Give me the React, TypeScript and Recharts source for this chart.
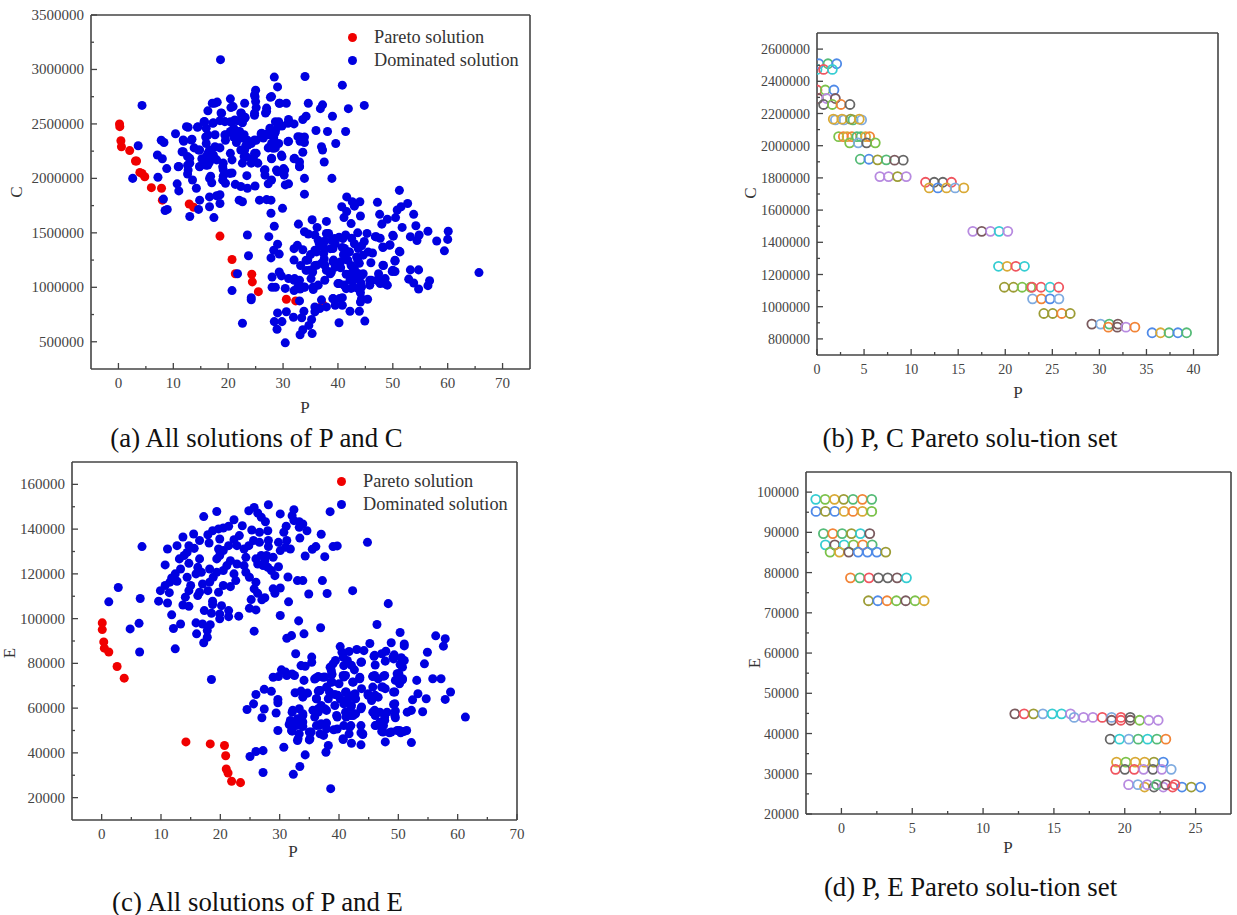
import { ScatterChart, Scatter, XAxis, YAxis, ZAxis, Legend, Cell } from 'recharts';

type Pair = [number, number];

const paretoPC: Pair[] = [
  [0.2, 2500000], [0.25, 2475000], [0.45, 2345000], [0.55, 2290000], [2.05, 2255000], [3.1, 2160000], [3.3, 2160000],
  [3.9, 2055000], [4.3, 2045000], [4.8, 2015000], [6, 1915000], [7.85, 1910000], [8, 1800000], [12.9, 1765000], [13.7, 1735000],
  [18.5, 1470000], [20.7, 1255000], [21.3, 1125000], [24.3, 1120000], [24.4, 1050000], [25.5, 960000], [30.6, 890000],
  [32.3, 875000], [37.2, 845000],
];

const dominatedPC: Pair[] = [
  [18.6, 3090000], [28.4, 2930000], [29, 2840000], [34, 2935000], [40.8, 2856000], [44.8, 2670000], [41.9, 2640000], [37.2, 2675000],
  [36.8, 2640000], [34.6, 2690000], [39, 2570000], [4.3, 2670000], [25, 2810000], [24.9, 2750000], [25, 2705000], [27.7, 2745000],
  [25.1, 2650000], [29.3, 2690000], [30.6, 2690000], [27, 2645000], [26.8, 2600000], [24.8, 2580000], [23, 2690000], [20.4, 2730000],
  [20.5, 2650000], [18, 2700000], [17.1, 2690000], [16.3, 2620000], [18.7, 2600000], [22.3, 2600000], [23.1, 2560000], [15.6, 2520000],
  [17.3, 2510000], [18.5, 2530000], [20.4, 2520000], [21.7, 2530000], [22.6, 2510000], [12.7, 2470000], [14.4, 2470000], [16, 2460000],
  [10.4, 2410000], [19.5, 2400000], [17.6, 2400000], [15.9, 2380000], [21, 2460000], [22, 2430000], [22.9, 2400000], [26, 2410000],
  [27.6, 2460000], [28.6, 2520000], [29.2, 2520000], [31, 2540000], [32, 2500000], [33.6, 2540000], [34.2, 2570000], [29.8, 2480000],
  [28.6, 2430000], [27.3, 2400000], [36, 2440000], [38.1, 2430000], [41.4, 2430000], [33.1, 2380000], [33.9, 2380000], [33.9, 2330000],
  [33.1, 2340000], [31, 2340000], [39.6, 2320000], [37, 2290000], [37.2, 2260000], [33.6, 2240000], [37.5, 2150000], [32, 2180000],
  [33, 2150000], [33, 2110000], [29.8, 2200000], [27.9, 2180000], [28.6, 2280000], [29.2, 2320000], [27.9, 2320000], [27.3, 2280000],
  [33.9, 2000000], [38.9, 2000000], [33.9, 1855000], [7.8, 2350000], [8.3, 2330000], [3.6, 2300000], [7.1, 2215000], [8, 2180000],
  [8.8, 2090000], [7.2, 2010000], [2.6, 2000000], [10.7, 1950000], [11, 1885000], [8.2, 1810000], [11.9, 2340000], [13.4, 2360000],
  [11.6, 2245000], [12.6, 2200000], [13.8, 2280000], [14.6, 2260000], [11, 2110000], [12.6, 2120000], [12.6, 2040000], [13.5, 1985000],
  [14.2, 1910000], [14.8, 2110000], [16, 2120000], [16.8, 2020000], [17, 1960000], [19.5, 1955000], [19.1, 2020000], [19.1, 2080000],
  [20.7, 2050000], [23.4, 2025000], [21.3, 1945000], [22.3, 1925000], [23.5, 1910000], [24.9, 1930000], [27.3, 1950000], [27.9, 1985000],
  [30.4, 1940000], [31, 1950000], [26.7, 2080000], [26.7, 2030000], [29, 2060000], [30.1, 2090000], [30.2, 2030000], [16.6, 1830000],
  [17.9, 1840000], [18.5, 1850000], [14.8, 1800000], [18.5, 1770000], [16.6, 1740000], [14.6, 1715000], [22, 1800000], [22.6, 1785000],
  [25.7, 1800000], [27, 1805000], [27.8, 1800000], [29.9, 1725000], [27.8, 1680000], [13, 1650000], [17.4, 1640000], [8.5, 1705000],
  [8.9, 1715000], [16, 2320000], [16.6, 2260000], [17.6, 2290000], [18.5, 2280000], [16, 2200000], [17.3, 2215000], [17.9, 2170000],
  [16.6, 2150000], [19.1, 2140000], [20.7, 2170000], [20.4, 2230000], [22.3, 2260000], [22.9, 2200000], [22.6, 2140000], [24.2, 2140000],
  [25.4, 2140000], [25.1, 2230000], [24.2, 2320000], [25.1, 2350000], [23.5, 2350000], [22.3, 2370000], [21, 2380000], [20.4, 2430000],
  [19.5, 2350000], [24.6, 2190000], [23.2, 2300000], [21.5, 2330000], [26.4, 2370000], [28.3, 2370000], [13, 2140000], [15.2, 2180000],
  [17.5, 2690000], [20.9, 2659000], [24.8, 2766000], [24.8, 2598000], [22.4, 2598000], [18.8, 2598000], [27, 2613000], [29.4, 2690000],
  [27.9, 2751000], [17.2, 2506000], [15.7, 2521000], [19.4, 2521000], [21.2, 2536000], [23, 2552000], [20.6, 2429000], [22.1, 2429000],
  [19.4, 2398000], [23.3, 2352000], [24.8, 2352000], [21.5, 2368000], [16.3, 2398000], [13.3, 2352000], [11.8, 2352000], [12.4, 2475000],
  [14.5, 2475000], [16.3, 2230000], [17.5, 2184000], [14.8, 2260000], [11.8, 2245000], [13, 2184000], [10.9, 2107000], [12.7, 2076000],
  [14.8, 2107000], [16.3, 2122000], [19, 2107000], [20.3, 2046000], [19, 1984000], [16.6, 2000000], [23.3, 2199000], [24.8, 2230000],
  [23, 2260000], [23.6, 2306000], [26.6, 2076000], [27.9, 2184000], [28.8, 2076000], [30.3, 2076000], [28.2, 2276000], [27.3, 2414000],
  [29.1, 2475000], [28.5, 2414000], [30.9, 2506000], [32.7, 2383000], [30.9, 2337000], [29.7, 2214000], [32.1, 2184000], [33, 2107000],
  [26.1, 2414000],
  // lower cluster
  [41.6, 1830000], [42.6, 1785000], [44, 1785000], [43, 1745000], [47.2, 1780000], [51.2, 1890000], [52.7, 1770000], [51.5, 1740000],
  [50.8, 1710000], [40.7, 1740000], [41.6, 1695000], [44.1, 1655000], [47.6, 1670000], [53.8, 1670000], [50.5, 1640000], [49, 1625000],
  [41.1, 1640000], [35.3, 1620000], [37.9, 1605000], [42.4, 1585000], [48, 1580000], [51.7, 1550000], [54.2, 1565000], [36.2, 1550000],
  [32.8, 1580000], [33.9, 1510000], [34.6, 1490000], [35.8, 1480000], [38.3, 1495000], [38.9, 1430000], [37.6, 1425000], [40.2, 1460000],
  [41.4, 1480000], [43.6, 1500000], [45.3, 1495000], [46.8, 1465000], [47.7, 1450000], [50.1, 1470000], [53.2, 1465000], [54.8, 1480000],
  [54.4, 1430000], [56.4, 1515000], [58, 1425000], [60.1, 1515000], [60, 1440000], [59.4, 1335000], [65.7, 1135000], [49.5, 1390000],
  [48.2, 1365000], [51.2, 1330000], [46.3, 1315000], [44.3, 1380000], [43, 1400000], [42, 1325000], [40.8, 1365000], [38.6, 1355000],
  [37.4, 1310000], [36.1, 1325000], [33.6, 1345000], [32.6, 1385000], [32, 1355000], [29, 1395000], [28.3, 1340000], [29.3, 1305000],
  [27.8, 1270000], [27.4, 1465000], [28.4, 1560000], [23.5, 1480000], [23.7, 1290000], [21.7, 1125000], [20.7, 970000], [22.6, 670000],
  [24.2, 905000], [24.2, 885000], [32, 1250000], [33.2, 1200000], [34.5, 1250000], [35.8, 1200000], [34.2, 1155000], [35.4, 1140000],
  [35.1, 1080000], [36.4, 1020000], [35.5, 980000], [33.1, 985000], [32, 970000], [30.4, 990000], [28.6, 1000000], [28, 1000000],
  [28, 1095000], [29.3, 1140000], [29.7, 1105000], [31, 1080000], [32, 1065000], [33, 1065000], [33.9, 1000000], [37.6, 1065000],
  [37.9, 1155000], [37, 1220000], [38.6, 1125000], [39.5, 1185000], [40.5, 1235000], [39.2, 1250000], [42.4, 1125000], [43, 1170000],
  [42.4, 1200000], [43.6, 1250000], [44.6, 1295000], [43.9, 1220000], [46, 1225000], [44.6, 1125000], [43.3, 1095000], [42.2, 1065000],
  [41.1, 1020000], [40.2, 1035000], [42.4, 990000], [43.6, 990000], [45.8, 1065000], [45.8, 1020000], [47.4, 1125000], [47.1, 1065000],
  [48.3, 1200000], [47.7, 1035000], [49, 1020000], [48.6, 1080000], [49.9, 1145000], [50.4, 1240000], [50.4, 1145000], [53.2, 1160000],
  [54.7, 1160000], [52.9, 1075000], [53.8, 1040000], [54.7, 985000], [56.7, 1060000], [56.4, 1015000], [44.1, 950000], [45.4, 890000],
  [44.1, 865000], [40.8, 905000], [39.1, 895000], [39.5, 835000], [40.8, 835000], [37.9, 820000], [37, 885000], [36.7, 805000],
  [35.8, 820000], [35.8, 775000], [33, 875000], [42.2, 780000], [43.9, 780000], [44.9, 690000], [40.2, 675000], [33.8, 780000],
  [33.4, 720000], [31.9, 725000], [30.6, 775000], [29, 765000], [28.4, 685000], [29.8, 685000], [28.9, 615000], [35.2, 705000],
  [34.7, 650000], [33.6, 610000], [33.1, 565000], [35.3, 575000], [30.4, 490000], [41, 1300000], [39.5, 1400000], [42.5, 1450000],
  [44.8, 1420000], [36.6, 1400000], [35, 1300000], [37.5, 1260000], [41.5, 1120000], [44.2, 1040000], [40.5, 1180000],
  [37.9, 1494000], [39.4, 1448000], [40.9, 1448000], [36.4, 1432000], [37.3, 1371000], [39.1, 1356000], [41.2, 1356000], [42.1, 1325000],
  [43.7, 1356000], [45.5, 1325000], [43.4, 1279000], [41.8, 1248000], [42.8, 1156000], [43.7, 1126000], [44.3, 1110000], [42.8, 1064000],
  [39.1, 1233000], [37.6, 1202000], [35.8, 1340000], [34.2, 1248000], [34.8, 1156000], [36.1, 1202000], [38.8, 1141000], [46.1, 1064000],
  [47.3, 1064000], [48.5, 1034000], [44.3, 1003000], [42.8, 1003000], [41.5, 988000], [40, 1034000], [35.5, 1003000], [33.9, 1003000],
  [32.1, 1080000], [32.7, 1003000], [39.1, 896000], [40.3, 896000], [44.3, 896000], [48.2, 1202000], [50, 1156000], [50.4, 1248000],
  [51.3, 1325000], [48.2, 1371000], [49.4, 1386000], [47, 1463000], [50, 1478000],
];

const paretoPE: Pair[] = [
  [0.1, 98100], [0.1, 95100], [0.35, 89600], [0.45, 86800], [1.2, 85100], [2.6, 78600], [3.8, 73400],
  [14.2, 44900], [18.3, 44000], [20.7, 43300], [20.9, 38700], [21, 32800], [21.3, 31000], [21.9, 27300], [23.4, 26700],
];

const dominatedPE: Pair[] = [
  [28.1, 150900], [25.7, 149700], [24.8, 148200], [19.4, 147900], [17.2, 145600], [26.3, 147200], [26.9, 145300], [27.6, 143300],
  [30.1, 146800], [32.4, 148700], [32.1, 146000], [32.4, 143800], [33.3, 143300], [33.9, 142300], [33.3, 140800], [34.6, 139300],
  [38.5, 147800], [37, 137700], [33.4, 136000], [44.8, 134100], [36.1, 132200], [35.5, 131000], [39, 132200], [39.7, 132500],
  [37.6, 127700], [34.3, 128000], [22.3, 144200], [23.7, 141500], [21.4, 141300], [20.5, 140500], [19.7, 140100], [18.7, 139300],
  [17.9, 137500], [18.1, 133800], [19.9, 135600], [16.5, 134900], [15.5, 137800], [13.7, 136500], [12.7, 132600], [11.1, 131100],
  [6.8, 132200], [14.7, 132600], [15.6, 131400], [14.4, 129600], [13.1, 126700], [13.9, 128200], [16.5, 126700], [14.7, 124700],
  [10.7, 124000], [13.3, 122200], [12.4, 120000], [11.8, 118200], [11.5, 116300], [12.7, 116700], [16.2, 122900], [15.9, 120000],
  [16.8, 120700], [18.2, 122200], [19.4, 120700], [18.8, 118500], [18.2, 116300], [17, 115500], [14.4, 118500], [15, 114800],
  [14.7, 112500], [16.5, 111800], [16.2, 110300], [17.9, 112500], [19.7, 111800], [20.5, 114800], [21.7, 114300], [22.6, 117000],
  [22.3, 120000], [20.5, 121500], [21.1, 123700], [21.7, 125900], [22.8, 124400], [24, 123700], [24.3, 120700], [24.9, 118500],
  [26, 116300], [25.7, 113300], [26.3, 111300], [27.5, 109300], [27, 108400], [25.2, 108500], [31.4, 118600], [33, 117000],
  [33.9, 117000], [37.2, 117000], [38, 111200], [34.9, 111000], [42.3, 112500], [28.9, 113300], [30.1, 113700], [29.2, 111300],
  [29.2, 119200], [28.6, 121500], [29.8, 123200], [28.9, 127400], [27.8, 128200], [26.9, 128200], [26, 126700], [26.3, 124400],
  [27.2, 123700], [28, 122900], [27.5, 125900], [24.3, 127400], [24, 131100], [24.8, 132600], [25.6, 134900], [26.6, 134100],
  [28.1, 134900], [28.1, 132200], [29.8, 134100], [30.1, 130400], [31, 131900], [31.8, 131100], [31.2, 134900], [30.7, 138600],
  [31.1, 141300], [28, 139300], [26.6, 138600], [25.3, 139600], [23.2, 137100], [22.3, 135300], [22.8, 132600], [21.4, 132600],
  [20.5, 130400], [19.7, 131100], [19.4, 126700], [19.9, 128200], [9.9, 112500], [10.7, 114800], [11.4, 111600], [2.8, 113900],
  [1.2, 107500], [6.5, 109000], [9.6, 107800], [11.1, 107000], [14.1, 109600], [13.7, 106100], [14.7, 105500], [11.8, 101700],
  [13.3, 97600], [12.1, 95600], [12.4, 86500], [4.8, 95400], [6.3, 97900], [6.4, 85100], [15.9, 98100], [16, 93200],
  [17, 97600], [18.3, 97300], [17.8, 94700], [17.8, 91700], [17.2, 89200], [18.7, 107800], [18.7, 106300], [17.3, 103600],
  [18.5, 102400], [20.2, 105800], [19.9, 102100], [21.4, 103600], [19.9, 99900], [21.4, 100900], [23.1, 101100], [24.9, 104600],
  [26, 103900], [25.7, 94400], [31.5, 107500], [30.1, 101400], [33.2, 99000], [34.1, 93200], [36.9, 95900], [48.3, 106700],
  [46.4, 97400], [31.2, 91200], [32, 92400], [32.7, 84300], [33.6, 79000], [34.3, 78700], [35.4, 82800], [35.4, 80500],
  // lower cluster
  [40.2, 87500], [40.5, 85000], [41.7, 85300], [43, 86200], [44.2, 85700], [45.2, 88900], [48.8, 89200], [50.3, 93800],
  [51, 88700], [51, 87800], [47.9, 85400], [47.2, 84300], [45.9, 83200], [49.3, 83800], [50.5, 82500], [51, 81300],
  [46.1, 79300], [47.8, 81000], [49.2, 82000], [54.4, 79800], [54.9, 85000], [56.3, 92300], [57.9, 91000], [57.6, 87700],
  [50.3, 79500], [50.7, 78300], [50.1, 75300], [43.7, 80500], [41.4, 81300], [40.8, 79000], [39.4, 81300], [38.5, 78300],
  [42.6, 77100], [41.1, 74600], [38.8, 75300], [30.3, 77100], [32.1, 75300], [31.2, 74600], [28.9, 73800], [29.8, 74100],
  [34.1, 72400], [35.9, 73000], [36.5, 74100], [37.3, 73800], [43.5, 73800], [45.7, 74100], [47.7, 74600], [46.6, 73100],
  [49.5, 72400], [50.7, 73100], [53.1, 72400], [55.8, 73100], [57.2, 73100], [18.5, 72800], [27.4, 68400], [28.6, 67500],
  [26, 66100], [29.7, 63900], [29.7, 62400], [25.6, 61900], [24.5, 59400], [27.4, 59600], [29.4, 57800], [27, 55700],
  [29.7, 50000], [30.7, 42500], [27.2, 41000], [26, 40600], [25, 38400], [27.2, 31200], [32.3, 30400], [33.4, 33900],
  [34.3, 39100], [38.2, 43300], [37.8, 40300], [38.6, 24000], [40.7, 46000], [42.1, 44300], [43.7, 43600], [47.8, 44900],
  [52.2, 44600], [61.3, 56000], [32.6, 66900], [33.6, 67600], [34.7, 66700], [33.9, 64900], [36.5, 67600], [36.2, 64200],
  [38.2, 64200], [39.3, 66100], [40.2, 64200], [41.1, 67200], [42.3, 65700], [42.8, 64200], [44.9, 65700], [45.5, 63400],
  [46.1, 65700], [49.2, 67200], [53.3, 66400], [52.4, 63700], [54.7, 64200], [57.9, 63900], [58.8, 67200], [54.1, 58400],
  [51.5, 58200], [52.2, 59000], [49.2, 61600], [49.5, 58700], [49.5, 55700], [48.1, 58200], [46.9, 58200], [45.7, 58200],
  [46.1, 56700], [47.7, 54500], [46.9, 53700], [46.1, 52200], [47.5, 52200], [47.2, 49600], [48.5, 49000], [49.8, 50000],
  [51, 49600], [50.4, 49000], [43.7, 59700], [42.8, 57500], [42, 60400], [41.1, 58200], [42, 56700], [40.8, 61900],
  [39.7, 56000], [37.9, 59000], [37, 61200], [35.6, 59000], [36.5, 58200], [35.9, 56000], [33.3, 59700], [33.9, 57500],
  [32.1, 58200], [33, 55200], [31.8, 54500], [31.6, 52700], [32.6, 52200], [33.9, 51800], [32.1, 49700], [33.3, 48500],
  [33, 45500], [35, 49300], [35, 45800], [36.2, 52200], [36.8, 48500], [37.4, 47800], [37, 53000], [37.9, 53300],
  [39.1, 50300], [39.7, 50700], [40.8, 52200], [42, 52200], [41.7, 48500], [43.7, 52200], [43.7, 49000], [44, 48200],
  [31, 76100], [32.5, 74600], [36.2, 73600], [37.6, 73900], [38.8, 75000], [38.8, 71700], [40, 70900], [40.8, 73900],
  [42.3, 71700], [43.5, 73100], [43.8, 68700], [42.7, 66400], [45.7, 74200], [47.5, 74200], [47.2, 69400], [47.8, 68700],
  [49.8, 75400], [50.1, 73100], [50.7, 72700], [36.8, 67900], [37.9, 69400],
  [39, 79800], [40.7, 82800], [42.1, 79100], [43.8, 80600], [46, 83600], [49.1, 82800], [50, 75400], [50.2, 70900],
  [38.7, 76800], [38.7, 71600], [40.7, 74600], [42.4, 71600], [46, 74600], [45.7, 69400], [47.4, 69400], [49.4, 67200],
  [36.7, 67900], [38.4, 67200], [41.2, 67200], [44.9, 66400], [46.6, 64900], [42.6, 65700], [36.2, 64200], [39.8, 65700],
  [36.5, 59700], [37.6, 59700], [39.3, 61200], [41.5, 64200], [42.1, 61200], [43.8, 60500], [42.4, 56700], [41.2, 56000],
  [39.6, 56700], [46, 59000], [47.7, 56000], [49.4, 62000], [49.4, 56700], [32.2, 59000], [32.8, 52300], [33.9, 53800],
  [33.9, 56700], [32, 50000], [33.1, 46300], [35.3, 49300], [36.7, 52300], [37.9, 50800], [41.8, 51500], [44, 48500],
  [46.3, 52300], [47.4, 49300], [48.8, 49300], [50.2, 50000], [51.4, 50000], [40.7, 46300], [35.1, 46300],
];

const bl = '#4f8ae8';
const gn = '#55bb77';
const rd = '#f0555f';
const cy = '#35cdd2';
const lm = '#7cc24a';
const pu = '#b78ae0';
const br = '#7a5a5e';
const gy = '#666666';
const or = '#f28436';
const go = '#d9a935';
const ol = '#9c9c35';
const lb = '#7fabe0';

const ringsPC: Pair[] = [
  [0.2, 2509000], [1.17, 2509000], [2.09, 2509000], [0, 2474000], [0.7, 2474000], [1.63, 2474000],
  [0, 2346000], [0.88, 2346000], [1.8, 2346000], [0.14, 2293000], [1.03, 2293000], [1.95, 2293000],
  [0.7, 2256000], [1.63, 2256000], [2.55, 2256000], [3.5, 2256000],
  [1.95, 2160000], [2.86, 2160000], [3.82, 2160000], [4.74, 2160000], [1.73, 2165000], [2.65, 2165000], [3.57, 2165000], [4.49, 2165000],
  [2.3, 2056000], [2.8, 2056000], [3.2, 2056000], [3.71, 2056000], [4.24, 2056000], [4.67, 2056000], [5.16, 2056000], [5.59, 2056000],
  [3.47, 2018000], [4.38, 2018000], [5.27, 2018000], [6.19, 2018000],
  [4.6, 1916000], [5.52, 1916000], [6.44, 1912000], [7.36, 1912000], [8.24, 1910000], [9.16, 1910000],
  [6.68, 1808000], [7.6, 1808000], [8.56, 1808000], [9.48, 1808000],
  [11.53, 1773000], [12.45, 1773000], [13.37, 1773000], [14.29, 1773000],
  [11.92, 1738000], [12.84, 1738000], [13.76, 1738000], [14.68, 1738000], [15.6, 1738000],
  [16.55, 1468000], [17.5, 1468000], [18.43, 1468000], [19.35, 1468000], [20.27, 1468000],
  [19.28, 1251000], [20.2, 1251000], [21.12, 1251000], [22.04, 1251000],
  [19.9, 1121000], [20.87, 1121000], [21.79, 1121000], [22.7, 1121000], [22.85, 1121000], [23.8, 1121000], [24.76, 1121000], [25.68, 1121000],
  [22.9, 1049000], [23.84, 1049000], [24.76, 1049000], [25.7, 1049000],
  [24.1, 958000], [25.04, 958000], [26, 958000], [26.9, 958000],
  [29.2, 892000], [30.13, 892000], [31.05, 892000], [31.97, 892000],
  [30.95, 873000], [31.9, 873000], [32.82, 873000], [33.77, 873000],
  [35.6, 838000], [36.5, 838000], [37.4, 838000], [38.34, 838000], [39.26, 838000],
];
const ringColorsPC: string[] = [
  bl, gn, bl, cy, rd, cy,
  rd, lm, bl, br, pu, br,
  gy, lm, or, gy,
  lb, lb, gn, lb, go, go, ol, go,
  lm, or, go, or, gn, gn, go, or,
  lm, lb, gy, lm,
  gn, bl, ol, gn, br, gy,
  pu, pu, ol, pu,
  rd, gy, gy, rd,
  go, bl, go, lb, go,
  pu, br, pu, cy, pu,
  cy, go, rd, cy,
  ol, ol, lm, lm, rd, rd, cy, rd,
  lb, or, bl, lb,
  ol, ol, or, ol,
  br, lb, gn, br,
  or, br, pu, or,
  bl, go, gn, bl, gn,
];

const ringsPE: Pair[] = [
  [-1.81, 98200], [-1.15, 98200], [-0.49, 98200], [0.16, 98200], [0.82, 98200], [1.48, 98200], [2.14, 98200],
  [-1.79, 95200], [-1.13, 95200], [-0.47, 95200], [0.19, 95200], [0.82, 95200], [1.48, 95200], [2.14, 95200],
  [-1.27, 89700], [-0.61, 89700], [0.05, 89700], [0.71, 89700], [1.34, 89700], [2, 89700],
  [-1.13, 86900], [-0.47, 86900], [0.19, 86900], [0.85, 86900], [1.51, 86900], [2.17, 86900],
  [-0.8, 85100], [-0.14, 85100], [0.52, 85100], [1.18, 85100], [1.84, 85100], [2.5, 85100], [3.13, 85100],
  [0.64, 78700], [1.3, 78700], [1.95, 78700], [2.61, 78700], [3.27, 78700], [3.93, 78700], [4.59, 78700],
  [1.91, 73000], [2.57, 73000], [3.22, 73000], [3.88, 73000], [4.54, 73000], [5.2, 73000], [5.84, 73000],
  [12.24, 44900], [12.9, 44900], [13.56, 44900], [14.22, 44900], [14.88, 44900], [15.54, 44900], [16.17, 44900],
  [16.43, 44000], [17.09, 44000], [17.75, 44000], [18.41, 44000], [19.07, 44000], [19.73, 44000], [20.39, 44000],
  [19.07, 43300], [19.73, 43300], [20.39, 43300], [21.05, 43300], [21.7, 43300], [22.36, 43300],
  [18.97, 38600], [19.63, 38600], [20.29, 38600], [20.95, 38600], [21.61, 38600], [22.27, 38600], [22.9, 38600],
  [19.42, 32900], [20.08, 32900], [20.74, 32900], [21.4, 32900], [22.06, 32900], [22.72, 32900],
  [19.35, 31100], [20.01, 31100], [20.67, 31100], [21.33, 31100], [21.99, 31100], [22.62, 31100], [23.28, 31100],
  [21.4, 26700], [22.06, 26700], [22.72, 26700], [23.38, 26700], [24.04, 26700], [24.7, 26700], [25.35, 26700],
  [20.27, 27300], [20.93, 27300], [21.59, 27300], [22.25, 27300], [22.9, 27300], [23.54, 27300],
];
const ringColorsPE: string[] = [
  cy, lm, go, ol, gn, or, gn,
  bl, ol, bl, go, or, go, lm,
  gn, or, gn, ol, cy, br,
  cy, br, cy, lm, or, gn,
  lm, go, br, bl, bl, bl, ol,
  or, gn, rd, gy, gy, br, cy,
  ol, bl, or, lm, br, lm, go,
  br, rd, ol, lb, cy, cy, pu,
  lb, pu, pu, rd, lb, rd, gy,
  br, rd, br, lm, pu, pu,
  gy, cy, lb, gn, cy, gn, or,
  go, lm, go, go, ol, bl,
  rd, gy, rd, pu, gy, pu, lb,
  go, gy, pu, rd, bl, ol, bl,
  pu, lb, pu, gn, br, rd,
];

const xTicksPC = [0, 5, 10, 15, 20, 25, 30, 35, 40, 45, 50, 55, 60, 65, 70];
const cTicksAll = [500000, 750000, 1000000, 1250000, 1500000, 1750000, 2000000, 2250000, 2500000, 2750000, 3000000, 3250000, 3500000];
const xTicksRingPC = [0, 2.5, 5, 7.5, 10, 12.5, 15, 17.5, 20, 22.5, 25, 27.5, 30, 32.5, 35, 37.5, 40];
const cTicksRing = [800000, 900000, 1000000, 1100000, 1200000, 1300000, 1400000, 1500000, 1600000, 1700000, 1800000, 1900000, 2000000, 2100000, 2200000, 2300000, 2400000, 2500000, 2600000];
const xTicksPE = [0, 5, 10, 15, 20, 25, 30, 35, 40, 45, 50, 55, 60, 65, 70];
const eTicksAll = [20000, 30000, 40000, 50000, 60000, 70000, 80000, 90000, 100000, 110000, 120000, 130000, 140000, 150000, 160000];
const xTicksRingPE = [0, 2.5, 5, 7.5, 10, 12.5, 15, 17.5, 20, 22.5, 25];
const eTicksRing = [20000, 25000, 30000, 35000, 40000, 45000, 50000, 55000, 60000, 65000, 70000, 75000, 80000, 85000, 90000, 95000, 100000];

const INK = '#444444';
const SERIF = '"Liberation Serif", serif';

type Side = 'left' | 'right' | 'top' | 'bottom';

// ticks point into the plot, so they are drawn by hand from the axis position
const makeTick = (side: Side, majorStep: number, fontSize: number) => (props: any) => {
  const { x, y, payload } = props;
  const major = payload.value % majorStep === 0;
  const len = major ? 6 : 3;
  const dx = side === 'left' ? len : side === 'right' ? -len : 0;
  const dy = side === 'top' ? len : side === 'bottom' ? -len : 0;
  return (
    <g>
      <line x1={x} y1={y} x2={x + dx} y2={y + dy} stroke={INK} strokeWidth={1.3} />
      {major && side === 'bottom' && (
        <text x={x} y={y + 19} textAnchor="middle" fontSize={fontSize} fontFamily={SERIF} fill={INK}>{payload.value}</text>
      )}
      {major && side === 'left' && (
        <text x={x - 7} y={y + 5} textAnchor="end" fontSize={fontSize} fontFamily={SERIF} fill={INK}>{payload.value}</text>
      )}
    </g>
  );
};

const legendContent = (fontSize: number) => (props: any) => (
  <div style={{ fontFamily: SERIF, fontSize, color: '#333', lineHeight: '23px', whiteSpace: 'nowrap' }}>
    {props.payload.map((entry: any) => (
      <div key={entry.value} style={{ display: 'flex', alignItems: 'center' }}>
        <span style={{ display: 'inline-block', width: 9, height: 9, borderRadius: '50%', background: entry.color, marginRight: 17 }} />
        {entry.value}
      </div>
    ))}
  </div>
);

type FrameProps = {
  left: number;
  top: number;
  width: number;
  height: number;
  margin: { left: number; top: number; right: number; bottom: number };
  xDomain: [number, number];
  yDomain: [number, number];
  xTicks: number[];
  yTicks: number[];
  xMajor: number;
  yMajor: number;
  fontSize: number;
  yKey: string;
  children: any;
  clip?: boolean;
};

function Frame(p: FrameProps) {
  const line = { stroke: INK, strokeWidth: 1.6 };
  return (
    <div style={{ position: 'absolute', left: p.left, top: p.top }}>
      <ScatterChart width={p.width} height={p.height} margin={p.margin}>
        <XAxis xAxisId={0} type="number" dataKey="P" orientation="bottom" domain={p.xDomain} ticks={p.xTicks} interval={0} height={1} mirror allowDataOverflow={p.clip}
          axisLine={line} tickLine={false} tickSize={0} tickMargin={0} tick={makeTick('bottom', p.xMajor, p.fontSize)} />
        <XAxis xAxisId="top" type="number" orientation="top" domain={p.xDomain} ticks={p.xTicks} interval={0} height={1} mirror
          axisLine={line} tickLine={false} tickSize={0} tickMargin={0} tick={makeTick('top', p.xMajor, p.fontSize)} />
        <YAxis yAxisId={0} type="number" dataKey={p.yKey} orientation="left" domain={p.yDomain} ticks={p.yTicks} interval={0} width={1} mirror
          axisLine={line} tickLine={false} tickSize={0} tickMargin={0} tick={makeTick('left', p.yMajor, p.fontSize)} />
        <YAxis yAxisId="right" type="number" orientation="right" domain={p.yDomain} ticks={p.yTicks} interval={0} width={1} mirror
          axisLine={line} tickLine={false} tickSize={0} tickMargin={0} tick={makeTick('right', p.yMajor, p.fontSize)} />
        {p.children}
      </ScatterChart>
    </div>
  );
}

const Caption = ({ x, y, text, size = 26.8 }: { x: number; y: number; text: string; size?: number }) => (
  <div style={{ position: 'absolute', left: x, top: y, transform: 'translate(-50%, -50%)', fontFamily: SERIF, fontSize: size, color: '#111', whiteSpace: 'nowrap' }}>{text}</div>
);

const AxisTitle = ({ x, y, text, rotate }: { x: number; y: number; text: string; rotate?: boolean }) => (
  <div style={{ position: 'absolute', left: x, top: y, transform: `translate(-50%, -50%)${rotate ? ' rotate(-90deg)' : ''}`, fontFamily: SERIF, fontSize: 17, color: '#333' }}>{text}</div>
);

const rows = (pairs: Pair[], yKey: string) => pairs.map(([P, v]) => ({ P, [yKey]: v }));

export default function App() {
  return (
    <div style={{ position: 'absolute', left: 0, top: 0, width: 1237, height: 915, background: '#fff', overflow: 'hidden' }}>
      {/* (a) */}
      <Frame left={0} top={0} width={540} height={420} margin={{ left: 91, top: 15, right: 10, bottom: 51 }}
        xDomain={[-5, 75]} yDomain={[250000, 3500000]} xTicks={xTicksPC} yTicks={cTicksAll} xMajor={10} yMajor={500000} fontSize={15} yKey="C">
        <ZAxis range={[62, 62]} />
        <Scatter name="Pareto solution" data={rows(paretoPC, 'C')} fill="#f00000" isAnimationActive={false} />
        <Scatter name="Dominated solution" data={rows(dominatedPC, 'C')} fill="#0000e0" isAnimationActive={false} />
        <Legend layout="vertical" align="center" verticalAlign="middle" itemSorter={null} wrapperStyle={{ left: 348, top: 26, width: 180, bottom: 'auto' }} content={legendContent(18.3)} />
      </Frame>
      {/* (b) */}
      <Frame left={740} top={0} width={490} height={420} margin={{ left: 77, top: 33, right: 12, bottom: 65 }}
        xDomain={[0, 42.6]} yDomain={[700000, 2700000]} xTicks={xTicksRingPC} yTicks={cTicksRing} xMajor={5} yMajor={200000} fontSize={14} yKey="C" clip>
        <ZAxis range={[30, 30]} />
        <Scatter data={rows(ringsPC, 'C')} fill="none" strokeWidth={1.8} isAnimationActive={false}>
          {ringsPC.map((_, i) => <Cell key={i} fill="none" stroke={ringColorsPC[i]} />)}
        </Scatter>
      </Frame>
      {/* (c) */}
      <Frame left={0} top={450} width={530} height={420} margin={{ left: 72, top: 12, right: 13, bottom: 50 }}
        xDomain={[-5, 70]} yDomain={[10000, 170000]} xTicks={xTicksPE} yTicks={eTicksAll} xMajor={10} yMajor={20000} fontSize={15} yKey="E">
        <ZAxis range={[62, 62]} />
        <Scatter name="Pareto solution" data={rows(paretoPE, 'E')} fill="#f00000" isAnimationActive={false} />
        <Scatter name="Dominated solution" data={rows(dominatedPE, 'E')} fill="#0000e0" isAnimationActive={false} />
        <Legend layout="vertical" align="center" verticalAlign="middle" itemSorter={null} wrapperStyle={{ left: 337, top: 20, width: 180, bottom: 'auto' }} content={legendContent(18.3)} />
      </Frame>
      {/* (d) */}
      <Frame left={740} top={450} width={497} height={420} margin={{ left: 66, top: 22, right: 6, bottom: 56 }}
        xDomain={[-2.5, 27.5]} yDomain={[20000, 105000]} xTicks={xTicksRingPE} yTicks={eTicksRing} xMajor={5} yMajor={10000} fontSize={14} yKey="E">
        <ZAxis range={[30, 30]} />
        <Scatter data={rows(ringsPE, 'E')} fill="none" strokeWidth={1.8} isAnimationActive={false}>
          {ringsPE.map((_, i) => <Cell key={i} fill="none" stroke={ringColorsPE[i]} />)}
        </Scatter>
      </Frame>

      <AxisTitle x={305} y={408} text="P" />
      <AxisTitle x={17} y={192} text="C" rotate />
      <AxisTitle x={1018} y={393} text="P" />
      <AxisTitle x={751} y={193} text="C" rotate />
      <AxisTitle x={293} y={852} text="P" />
      <AxisTitle x={10} y={653} text="E" rotate />
      <AxisTitle x={1008} y={848} text="P" />
      <AxisTitle x={755} y={663} text="E" rotate />

      <Caption x={256.5} y={438} text="(a) All solutions of P and C" />
      <Caption x={970} y={438} text="(b) P, C Pareto solu-tion set" />
      <Caption x={257.5} y={902} text="(c) All solutions of P and E" />
      <Caption x={970.5} y={887} text="(d) P, E Pareto solu-tion set" />
    </div>
  );
}
